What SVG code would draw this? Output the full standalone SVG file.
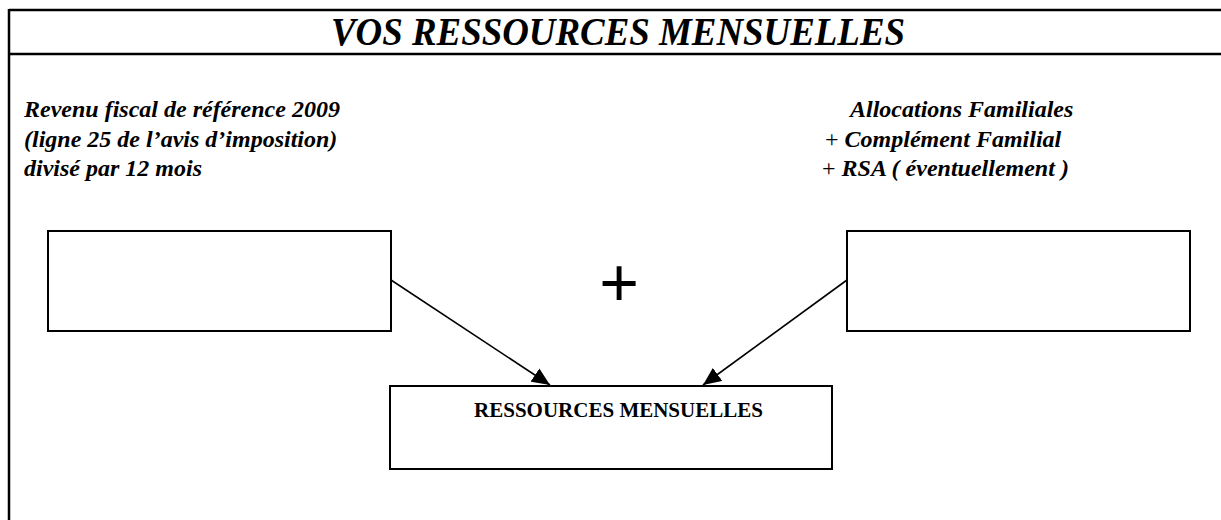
<svg xmlns="http://www.w3.org/2000/svg" width="1221" height="520" viewBox="0 0 1221 520">
<style>
.frame{stroke:#000;stroke-width:2.5;fill:none}
.box{fill:#fff;stroke:#000;stroke-width:2}
.conn{stroke:#000;stroke-width:1.6;fill:none}
.lbl{font-family:"Liberation Serif","Times New Roman",serif;font-weight:bold;font-style:italic;font-size:24px;fill:#000}
.plus{font-style:normal;font-weight:normal}
.title{font-family:"Liberation Serif","Times New Roman",serif;font-weight:bold;font-style:italic;font-size:40px;fill:#000}
.boxlbl{font-family:"Liberation Serif","Times New Roman",serif;font-weight:bold;font-size:21px;fill:#000}
</style>
<defs>
<marker id="arr" markerUnits="userSpaceOnUse" markerWidth="20" markerHeight="16" refX="18" refY="8" orient="auto">
<path d="M0,0 L18,8 L0,16 Z" fill="#000"/>
</marker>
</defs>
<rect width="1221" height="520" fill="#fff"/>
<g id="frame">
<line class="frame" x1="9" y1="10" x2="1221" y2="10"/>
<line class="frame" x1="9" y1="54" x2="1221" y2="54"/>
<line class="frame" x1="9" y1="9" x2="9" y2="520"/>
</g>
<g id="title">
<text class="title" x="331" y="45" textLength="574" lengthAdjust="spacingAndGlyphs">VOS RESSOURCES MENSUELLES</text>
</g>
<g id="left-label">
<text class="lbl" x="24" y="117">Revenu fiscal de référence 2009</text>
<text class="lbl" x="24" y="147">(ligne 25 de l’avis d’imposition)</text>
<text class="lbl" x="24" y="176">divisé par 12 mois</text>
</g>
<g id="right-label">
<text class="lbl" x="850" y="117">Allocations Familiales</text>
<text class="lbl" x="825" y="147"><tspan class="plus">+</tspan> Complément Familial</text>
<text class="lbl" x="822" y="176"><tspan class="plus">+</tspan> RSA ( éventuellement )</text>
</g>
<g id="node-left">
<rect class="box" x="48" y="231" width="343" height="100"/>
</g>
<g id="node-right">
<rect class="box" x="847" y="231" width="343" height="100"/>
</g>
<g id="plus-sign">
<text x="619" y="306" text-anchor="middle" font-family="Liberation Sans, Arial, sans-serif" font-size="68">+</text>
</g>
<g id="node-result">
<rect class="box" x="390" y="386" width="442" height="83"/>
<text class="boxlbl" x="618.5" y="417" text-anchor="middle">RESSOURCES MENSUELLES</text>
</g>
<g id="connectors">
<line class="conn" x1="391" y1="280" x2="550" y2="385" marker-end="url(#arr)"/>
<line class="conn" x1="847" y1="280" x2="703" y2="385" marker-end="url(#arr)"/>
</g>
</svg>
